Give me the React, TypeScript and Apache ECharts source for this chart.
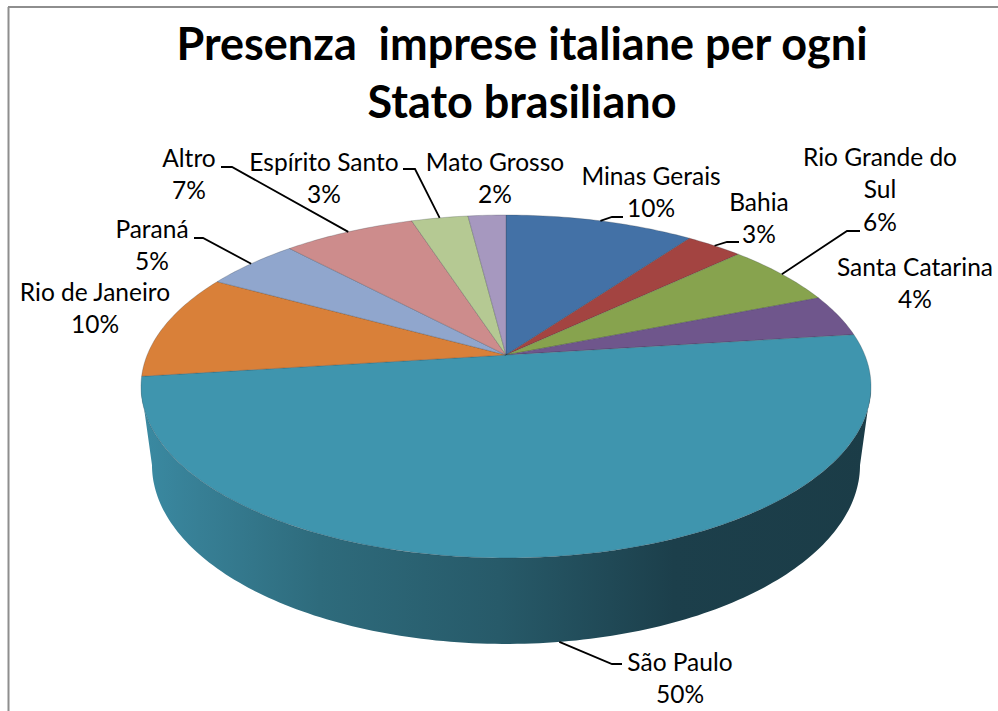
import React, { useEffect, useRef } from "react";
import * as echarts from "echarts";

const categories = ["Minas Gerais", "Bahia", "Rio Grande do Sul", "Santa Catarina", "São Paulo", "Rio de Janeiro", "Paraná", "Altro", "Espírito Santo", "Mato Grosso"];
const shares = [10, 3, 6, 4, 50, 10, 5, 7, 3, 2];
const sliceColors = ["#4371a6", "#a34441", "#87a34e", "#6f568c", "#3f95ae", "#d98039", "#90a6cd", "#cd8c8c", "#b5c993", "#a698bf"];
const labelLines = [["Minas Gerais"], ["Bahia"], ["Rio Grande do", "Sul"], ["Santa Catarina"], ["São Paulo"], ["Rio de Janeiro"], ["Paraná"], ["Altro"], ["Espírito Santo"], ["Mato Grosso"]];
const labelCenters: number[][] = [[651, 175], [759, 201], [880, 156], [915, 266], [680, 661], [95, 291], [152, 228], [189, 157], [324, 161], [495, 161]];
const leaderBends: (number[][] | null)[] = [
  [[612, 217], [623, 217]],
  [[727, 242], [739, 242]],
  [[847, 231], [860, 231]],
  null,
  [[612, 664], [622, 664]],
  null,
  [[203, 238], [194, 238]],
  [[232, 167], [221, 167]],
  [[415, 169], [403, 169]],
  null,
];

const FONT = "Lato";
const LABEL_SIZE = 24.5;
const LINE_GAP = 32.5;
const K = 0.1837;
const CX = 506;
const TOP_RIM = { cy: 355, a: 358.8, b: 165.7 };
const LOW_RIM = { cy: 432, a: 348, b: 173 };
const TOTAL = shares.reduce((s, v) => s + v, 0);
const SILHOUETTE = (Math.acos(-K) * 180) / Math.PI;

function rim(r: { cy: number; a: number; b: number }, deg: number): number[] {
  const t = (deg * Math.PI) / 180;
  const u = Math.sin(t);
  const v = -Math.cos(t);
  const d = 1 - K * v;
  return [CX + (r.a * u) / d, r.cy + (r.b * v) / d];
}

function arc(r: { cy: number; a: number; b: number }, from: number, to: number): number[][] {
  const n = Math.max(2, Math.ceil(Math.abs(to - from)));
  const pts: number[][] = [];
  for (let i = 0; i <= n; i++) pts.push(rim(r, from + ((to - from) * i) / n));
  return pts;
}

function startAngle(i: number): number {
  return (shares.slice(0, i).reduce((s, v) => s + v, 0) / TOTAL) * 360;
}

const renderItem = (params: any, api: any) => {
  const i = params.dataIndex;
  const share = api.value(0);
  const from = startAngle(i);
  const to = from + (share / TOTAL) * 360;
  const mid = (from + to) / 2;
  const children: any[] = [];

  const frontFrom = Math.max(from, SILHOUETTE);
  const frontTo = Math.min(to, 360 - SILHOUETTE);
  if (frontTo > frontFrom) {
    children.push({
      type: "polygon",
      shape: { points: [...arc(TOP_RIM, frontFrom, frontTo), ...arc(LOW_RIM, frontTo, frontFrom)] },
      style: {
        fill: new echarts.graphic.LinearGradient(0, 0, 1, 0, [
          { offset: 0, color: "#3a8aa2" },
          { offset: 0.08, color: "#377f95" },
          { offset: 0.245, color: "#2e6b7c" },
          { offset: 0.49, color: "#275a69" },
          { offset: 0.73, color: "#1c3f4b" },
          { offset: 1, color: "#1b3c47" },
        ]),
      },
    });
  }

  children.push({
    type: "polygon",
    shape: { points: [[CX, TOP_RIM.cy], ...arc(TOP_RIM, from, to)] },
    style: { fill: sliceColors[i], stroke: "rgba(40,50,60,0.3)", lineWidth: 0.8, lineJoin: "round" },
  });

  const bend = leaderBends[i];
  if (bend) {
    const anchor = mid > SILHOUETTE && mid < 360 - SILHOUETTE ? rim(LOW_RIM, mid) : rim(TOP_RIM, mid);
    children.push({
      type: "polyline",
      shape: { points: [anchor, ...bend] },
      style: { fill: "none", stroke: "#000", lineWidth: 1.8 },
    });
  }

  const [lx, ly] = labelCenters[i];
  const lines = [...labelLines[i], `${Math.round((share / TOTAL) * 100)}%`];
  lines.forEach((text, n) => {
    children.push({
      type: "text",
      style: {
        text,
        x: lx,
        y: ly + n * LINE_GAP,
        align: "center",
        verticalAlign: "middle",
        fontFamily: FONT,
        fontSize: LABEL_SIZE,
        fill: "#000",
      },
    });
  });
  return { type: "group", children };
};

export default function App() {
  const ref = useRef<HTMLDivElement>(null);
  useEffect(() => {
    const chart = echarts.init(ref.current!, null, { renderer: "svg" });
    chart.setOption({
      animation: false,
      backgroundColor: "#fff",
      title: {
        text: "Presenza  imprese italiane per ogni\nStato brasiliano",
        left: 522,
        top: 14,
        textAlign: "center",
        padding: 0,
        textStyle: { fontFamily: FONT, fontSize: 45, fontWeight: "bold", color: "#000", lineHeight: 58 },
      },
      graphic: [
        { type: "line", shape: { x1: 8.5, y1: 7, x2: 8.5, y2: 711 }, style: { stroke: "#8e8e8e", lineWidth: 2 } },
        { type: "line", shape: { x1: 8, y1: 7, x2: 998, y2: 7 }, style: { stroke: "#8e8e8e", lineWidth: 2 } },
      ],
      series: [
        {
          type: "custom",
          coordinateSystem: "none",
          renderItem,
          data: categories.map((name, i) => ({ name, value: shares[i] })),
        },
      ],
    });
    return () => chart.dispose();
  }, []);
  return <div ref={ref} style={{ position: "fixed", left: 0, top: 0, width: 998, height: 711 }} />;
}
